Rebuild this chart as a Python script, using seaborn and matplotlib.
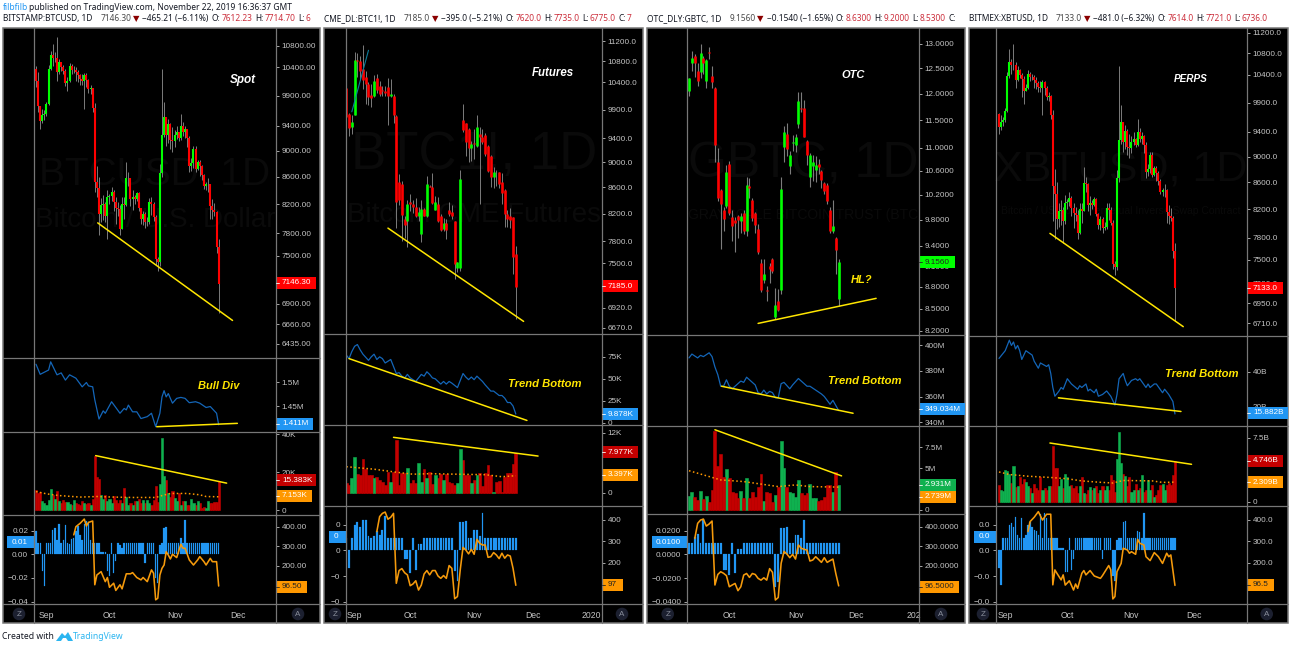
import matplotlib
matplotlib.use("Agg")
import matplotlib.pyplot as plt
import seaborn as sns
from matplotlib.patches import Rectangle, Circle, Polygon

# spot candles, BITSTAMP:BTCUSD
spot_open = [10370,10160,9720,9480,9580,9600,9760,10380,10620,10580,
             10580,10320,10490,10410,10340,10115,10160,10420,10360,10360,
             10310,10260,10190,10160,10270,10170,10010,10030,9700,8530,
             8430,8060,8190,8200,8040,8300,8320,8370,8230,8150,
             8130,7860,8200,8190,8580,8590,8270,8300,8280,8360,
             8150,7990,8070,7950,7950,8230,8200,8020,7460,7420,
             8660,9250,9550,9250,9430,9170,9150,9250,9300,9200,
             9400,9300,9340,9200,8770,8810,9030,8720,8830,8760,
             8630,8460,8490,8500,8170,8120,8090,7612]
spot_close = [10160,9720,9480,9580,9600,9760,10380,10620,10580,10580,
              10320,10490,10410,10340,10115,10160,10420,10360,10360,10310,
              10260,10190,10160,10270,10170,10010,10030,9700,8530,8430,
              8060,8190,8200,8040,8300,8320,8370,8230,8150,8130,
              7860,8200,8190,8580,8590,8270,8300,8280,8360,8150,
              7990,8070,7950,7950,8230,8200,8020,7460,7420,8660,
              9250,9550,9250,9430,9170,9150,9250,9300,9200,9400,
              9300,9340,9200,8770,8810,9030,8720,8830,8760,8630,
              8460,8490,8500,8170,8120,8090,7612,7146]
spot_high = [10420,10310,9720,9680,9660,9800,10450,10700,10830,10680,
             10960,10560,10500,10440,10380,10230,10480,10460,10420,10400,
             10360,10280,10280,10300,10300,10190,10080,10040,9770,8760,
             8600,8290,8340,8230,8400,8350,8450,8400,8300,8240,
             8190,8300,8300,8830,8680,8590,8400,8340,8380,8370,
             8150,8110,8090,8020,8290,8300,8240,8050,7480,8790,
             10370,9800,9550,9510,9450,9370,9330,9400,9300,9600,
             9460,9400,9350,9230,8880,9070,9080,8860,8860,8780,
             8650,8520,8580,8500,8270,8220,8110,7715]
spot_low = [10050,9620,9340,9440,9500,9560,9740,10350,10420,10500,
            10160,10280,10340,10290,10070,9990,10140,10280,10300,10160,
            10140,10090,10080,9680,10050,9950,9930,9620,8380,8300,
            7780,7950,7980,7950,7720,8210,8250,8100,7930,8040,
            7780,7850,8000,8180,8460,8170,8120,8200,8250,8100,
            7920,7910,7870,7900,7920,8050,7970,7380,7300,7370,
            8600,9210,9080,9120,9030,8980,9060,9180,9150,9170,
            9230,9200,9050,8670,8690,8740,8680,8700,8620,8560,
            8420,8400,8380,8000,7990,8040,7530,6790]

# futures candles, CME_DL:BTC1!
fut_open = [10300,9820,9600,9800,10830,10800,10650,10500,10360,10160,
            10150,10480,10340,10260,10240,10320,10150,10150,9790,8690,
            8650,8130,8100,8370,8350,8300,8170,7900,8270,8170,
            8630,8600,8260,8350,8170,7980,8060,8260,8230,8100,
            7430,7430,9720,9660,9550,9230,9320,9270,9480,9420,
            9450,9270,9100,8770,8800,8840,8680,8560,8190,8160,
            8150,7620]
fut_close = [9760,9570,9680,10820,10800,10620,10450,10360,10120,10110,
             10420,10250,10190,10230,10210,10150,10190,9800,8380,8410,
             8180,8030,8350,8350,8300,8170,8230,8270,8170,8650,
             8610,8360,8370,8100,7960,8070,7970,8190,8170,7490,
             7510,8730,9540,9330,9240,9310,9300,9590,9420,9330,
             9140,8860,8760,8850,8790,8660,8510,8200,8120,8110,
             7590,7185]
fut_high = [10300,9830,9810,10990,10970,10900,11130,10620,10400,10360,
            10530,10550,10430,10340,10340,10480,10460,10190,9800,8810,
            8700,8160,8400,8500,8410,8440,8300,8400,8280,8780,
            8640,8830,8470,8450,8190,8140,8120,8380,8330,8100,
            7520,8870,10000,9660,9580,9350,9560,9810,9590,9560,
            9490,9290,9120,8930,8880,8850,8820,8570,8260,8290,
            8150,7735]
fut_low = [9700,9430,9470,9800,10500,10450,10280,10000,9990,9950,
           10130,10200,10140,10150,10140,9620,10130,9660,7990,8330,
           7800,7850,7720,8240,8210,8150,8100,7790,8160,8150,
           8600,8350,8250,8080,7950,7950,7830,8170,8130,7290,
           7380,7400,9500,9100,9000,9020,9050,9250,8350,9300,
           9100,8850,8600,8590,8620,8590,8350,8000,8000,7990,
           7350,6775]

# OTC candles, OTC_DLY:GBTC
otc_open = [12.05,12.6,12.75,12.45,12.43,12.7,12.25,12.82,12.35,12.1,
            10.75,10.28,9.96,10.02,10.72,9.85,9.8,9.86,9.78,9.9,
            9.62,10.34,10.12,9.9,9.65,9.15,8.9,8.75,9.1,9.2,
            8.38,8.6,8.76,11.02,11.24,10.69,11.08,11.05,11.42,11.72,
            11.72,11.12,10.5,10.68,10.62,10.72,10.6,10.4,10.37,9.95,
            9.63,9.52,8.63]
otc_close = [12.3,12.7,12.6,12.25,12.8,12.6,12.67,12.8,12.22,11.05,
             10.15,10.05,9.82,10.58,9.9,9.7,9.75,9.8,9.86,9.63,
             10.36,10.31,9.83,9.72,9.3,8.75,8.98,8.74,9.05,9.03,
             8.55,8.48,10.3,11.28,10.98,10.87,11.11,11.2,11.85,11.7,
             11.2,10.88,10.88,10.75,10.7,10.67,10.45,10.26,10.1,9.62,
             9.7,9.34,9.156]
otc_high = [12.3,12.85,12.78,12.6,13.0,12.75,12.68,12.92,12.55,12.13,
            11.0,10.3,10.0,10.7,10.77,9.96,9.85,9.88,9.9,9.95,
            10.5,10.48,10.15,9.92,9.74,9.2,9.2,8.82,9.15,9.22,
            8.78,8.77,10.5,11.4,11.45,10.95,11.22,11.24,12.03,12.02,
            11.87,11.13,10.9,10.88,10.85,10.8,10.61,10.42,10.4,10.0,
            10.12,9.53,9.2]
otc_low = [11.95,12.45,12.33,12.15,12.3,12.38,12.1,12.68,12.1,10.75,
           10.1,9.35,9.62,9.98,9.88,9.48,9.3,9.52,9.6,9.58,
           9.55,10.15,9.78,9.6,9.28,8.73,8.85,8.6,8.85,9.0,
           8.36,8.46,8.7,10.75,10.85,10.55,10.95,10.92,11.35,11.65,
           11.2,10.7,10.33,10.43,10.42,10.55,10.32,10.22,10.05,9.6,
           9.6,8.98,8.53]

# perps candles, BITMEX:XBTUSD
perp_open = [9710,9480,9570,9600,9750,10380,10630,10570,10580,10310,
             10480,10400,10330,10100,10150,10410,10350,10350,10300,10250,
             10180,10150,10260,10160,10000,10020,9680,8540,8420,8060,
             8180,8190,8030,8300,8310,8360,8220,8150,8120,7860,
             8200,8180,8590,8580,8260,8290,8270,8350,8140,7980,
             8060,7940,7950,8220,8190,8010,7450,7410,8670,9260,
             9560,9240,9420,9160,9140,9240,9290,9190,9400,9290,
             9330,9190,8760,8800,9030,8710,8820,8750,8620,8450,
             8480,8490,8160,8110,8080,7614]
perp_close = [9480,9570,9600,9750,10380,10630,10570,10580,10310,10480,
              10400,10330,10100,10150,10410,10350,10350,10300,10250,10180,
              10150,10260,10160,10000,10020,9680,8540,8420,8060,8180,
              8190,8030,8300,8310,8360,8220,8150,8120,7860,8200,
              8180,8590,8580,8260,8290,8270,8350,8140,7980,8060,
              7940,7950,8220,8190,8010,7450,7410,8670,9260,9560,
              9240,9420,9160,9140,9240,9290,9190,9400,9290,9330,
              9190,8760,8800,9030,8710,8820,8750,8620,8450,8480,
              8490,8160,8110,8080,7614,7133]
perp_high = [9720,9680,9660,9800,10450,10890,10700,10970,10640,10560,
             10510,10440,10380,10230,10480,10450,10420,10400,10360,10280,
             10280,10300,10290,10190,10080,10040,9770,8800,8600,8300,
             8340,8230,8410,8350,8450,8400,8300,8240,8190,8300,
             8300,8840,8680,8590,8400,8340,8380,8370,8150,8110,
             8090,8020,8290,8300,8240,8050,7480,8790,10560,9850,
             9560,9510,9450,9370,9330,9400,9300,9620,9460,9400,
             9350,9230,8880,9070,9080,8860,8860,8780,8650,8520,
             8580,8500,8270,8220,8110,7721]
perp_low = [9360,9440,9500,9560,9740,10340,10420,10480,10150,10280,
            10340,10000,9870,10100,10140,10280,10300,10160,10140,10090,
            10080,9680,10040,9950,9930,9620,8030,7780,7920,7950,
            7980,7730,7990,8210,8250,8100,7930,8040,7780,7850,
            8000,8180,8460,8170,8120,8200,8250,8100,7920,7910,
            7870,7900,7920,8050,7970,7380,7300,7370,8600,9210,
            9080,9120,9030,8980,9060,9180,9150,9170,9230,9200,
            9050,8670,8690,8740,8680,8700,8620,8560,8420,8400,
            8380,8000,7990,8040,7530,6736]

# second pane, blue line (bar index, value)
spot_flow_x = [0,2,6,7,10,12,14,16,19,22,24,25,27,28,30,32,33,36,38,40,42,43,44,46,48,50,53,55,57,59,60,61,62,63,65,67,69,71,73,76,78,81,83,86,87]
spot_flow = [1.537,1.516,1.525,1.542,1.515,1.519,1.504,1.515,1.508,1.490,1.499,1.492,1.490,1.463,1.423,1.440,1.435,1.459,1.447,1.435,1.445,1.442,1.452,1.438,1.438,1.424,1.428,1.435,1.407,1.435,1.469,1.482,1.469,1.476,1.456,1.466,1.468,1.466,1.457,1.459,1.456,1.447,1.449,1.435,1.411]
fut_flow_x = [0,1,2,3,4,5,6,8,9,10,11,12,13,14,15,16,17,18,19,20,21,22,23,25,26,27,28,29,30,31,32,34,35,36,37,38,40,42,43,44,45,46,47,49,50,52,53,55,56,57,58,59,60,61]
fut_flow = [77,73,81,87,89,83,78,71,75,78,72,75,73,68,70,72,64,56,57,53,51,55,51,47,51,55,53,58,55,51,50,44,47,44,47,45,40,56,52,49,52,49,53,47,43,36,36,31,31,28,23,23,19,9.878]
otc_flow_x = [0,1,3,4,5,7,8,9,10,11,12,13,14,15,16,18,19,20,22,23,24,25,26,27,28,29,30,31,32,33,35,36,38,39,41,42,44,46,47,49,50,52]
otc_flow = [390,393,390,392,391,394,391,383,377,368,368,373,368,366,368,372,371,375,371,369,363,362,365,362,364,363,359,359,370,371,366,369,374,372,368,368,365,362,360,354,357,349.034]
perp_flow_x = [0,3,5,6,7,8,9,10,11,13,16,17,19,20,23,24,25,26,27,29,30,31,33,35,38,39,40,42,43,44,46,47,48,50,52,54,56,57,58,60,61,62,64,66,67,68,71,72,73,75,76,79,80,82,84,85]
perp_flow = [47.6,52,58,55,57,53,55,52,47,52,49.5,46,42,45,43,44,39,31,26,29,31,30,36,33,30,32,31,33,29,30,28,30,26,27,29,26,21,27,36,39,35,32,35,36,35,36,31,33,31,33,33,28,30,27,23,15.882]

# volume bars
spot_vol = [10.5,9,9.5,5,4,3,5.5,11,8,6,10,5,4,5.5,4.5,4.5,3.5,3,5.5,4,
            3.5,3,5,4,3.5,4,3,6,28.7,17.5,16.5,8,6,8,5,6,4,7.5,5.5,4,
            5.5,4,11.5,7,3,4,3,5,5,6,4,5.5,4,5.5,4,3,5.5,13,4.5,14,
            38,18,16,9,7,10,6.5,5,9,3,5,5,3,3,6,4,3,5,4,1.5,
            2,1.5,5,4,4,4.5,4.5,15.383]
fut_vol = [2,1.5,2.9,7.2,3.7,3.5,6.7,4.7,3.5,3.5,2.9,3.2,2.5,2.2,1.5,4.2,2.2,4.2,10.5,1.5,
           3.9,3.9,4.9,1.9,2.5,1.9,5.9,2.2,4.7,2.9,4.2,1.7,3.5,2.9,3.7,2.5,3.7,2.2,1.9,1.5,
           2,8.7,6.5,3.5,3.5,2,2.5,3.5,3.9,1.3,3.9,5.5,3.5,0.1,2.2,2.4,0.1,3.2,3.9,3.9,
           5.7,7.977]
otc_vol = [1.7,2.1,1.5,1.2,2.3,1.3,1.7,1,2.4,9.4,5.3,6.7,4,4.9,3.8,2.1,2,1.4,2.3,1.4,
           3.8,1.4,2.1,1.5,2.8,4.3,1.1,2.1,2,1,1.8,2.7,8.3,5,2.8,2.1,2,1.5,3.6,2,
           1.8,2,3.1,1.4,1.4,1.1,1.2,1.6,3,3,2.1,4.5,2.931]
perp_vol = [2,1.4,1.3,3.7,3.6,3.3,2.2,4.2,1.7,1.8,2.9,2.1,2.7,2.3,1.8,1.6,1,2.1,1.6,1.4,
            2.9,1.4,1.6,1.4,1.8,1.8,6.6,4,4,1.8,2.7,1.6,3.3,2.9,1.8,2,1.6,1.8,1,1.8,
            2.9,1,0.9,1.4,1.7,1.4,1.6,1.8,1,1.4,1.8,1.4,1.8,1.4,3.1,2.5,1.1,5,8.2,4.5,
            3.3,3,1.8,2.9,1.2,1.4,2.1,1.4,1.6,3.2,1.1,1.4,2.5,1.4,2,0.6,0.8,1.4,2,2.1,
            1.4,2,2.2,2,3.1,4.746]

# volume moving average
spot_ma_x = [0,5,11,21,29,37,46,57,60,64,72,78,81,87]
spot_ma = [9.9,8.7,7.8,7,7.3,7,6.8,6.8,7.8,8.9,8.9,8.2,7.3,7.153]
fut_ma_x = [0,10,18,24,30,40,50,56,61]
fut_ma = [5.2,4.7,4.1,3.7,3.8,3.7,3.6,3.2,3.397]
otc_ma_x = [0,5,11,19,25,31,37,42,52]
otc_ma = [4.7,4.2,3.6,3.4,3.1,2.8,3,2.8,2.739]
perp_ma_x = [0,5,14,25,33,40,48,55,60,74,79,85]
perp_ma = [3.5,3.2,3,2.85,2.7,2.45,2.3,2.2,2.5,2.45,2.27,2.309]

# bottom pane histogram
spot_hist = [.02,.01,.01,-.014,-.027,.01,.01,.01,.021,.022,
             .012,.026,.01,.012,.025,.01,.009,.013,.014,.02,
             .024,.016,.012,.026,.028,.027,.012,.01,.01,.01,
             .01,.002,.002,.002,-.014,-.018,.01,-.016,-.006,.01,
             .008,.005,.01,.01,.01,.01,.01,.01,.01,.01,
             .01,.01,-.007,.01,.01,.01,.01,-.02,-.024,.008,
             .01,.022,.023,.01,.01,.01,.01,.01,.01,.014,
             .01,.029,.01,.01,.01,.01,.01,.01,.01,.01,
             .01,.01,.01,.01,.01,.01,.01,.01]
fut_hist = [.01,-.0135,.01,.02,.022,.018,.024,.024,.011,.01,
            .011,.015,.012,.016,.027,.01,.01,.01,.01,.01,
            .01,-.007,-.007,-.0175,.01,-.0155,.005,.005,.01,.01,
            .01,.01,.01,.01,.01,.01,.01,.01,.01,-.016,
            -.024,.022,.022,.023,.01,.01,.016,.016,.011,.029,
            .01,.01,.01,.01,.01,.01,.01,.01,.01,.01,
            .01,.01]
otc_hist = [.01,.01,.0145,.017,.01,.03,.01,.01,.01,.01,
            .01,.01,-.0133,-.0133,-.017,.01,-.016,.005,.005,.01,
            .01,.01,.01,.01,.01,.01,.01,.01,.01,.01,
            -.027,-.023,.022,.022,.023,.01,.01,.016,.016,.014,
            .029,.01,.01,.01,.01,.01,.01,.01,.01,.01,
            .01,.01,.01]
perp_hist = [-.0135,-.027,.01,.01,.01,.02,.021,.018,.026,.012,
             .01,.025,.01,.012,.02,.022,.018,.016,.015,.012,
             .028,.01,.029,.025,.01,.01,.01,.01,.01,.002,
             .002,.002,-.017,-.017,.01,-.015,-.007,.01,.01,.01,
             .01,.01,.01,.01,.01,.01,.01,.01,.01,.01,
             -.007,.01,.01,.01,.01,-.02,-.024,.008,.01,.01,
             .022,.023,.01,.01,.01,.01,.01,.015,.014,.01,
             .029,.01,.01,.01,.01,.01,.01,.01,.01,.01,
             .01,.01,.01,.01,.01,.01]

# bottom pane orange line
spot_osc_x = [18,19,21,23,24,25,27,28,29,31,33,34,35,37,38,40,41,43,45,46,48,50,51,53,55,56,57,58,59,60,61,62,63,64,65,67,69,70,71,73,75,77,78,80,81,83,84,86,87]
spot_osc = [358,400,417,439,403,422,429,103,153,170,119,140,90,111,74,103,82,159,159,165,140,128,140,119,179,162,26,34,153,187,204,272,255,235,259,242,310,290,290,230,204,230,247,221,204,238,221,221,96.5]
fut_osc_x = list(range(11, 62))
fut_osc = [345,414,429,435,402,411,429,106,165,174,155,145,95,103,118,75,98,149,165,145,165,165,140,129,142,129,188,175,35,45,168,272,260,242,263,240,309,291,283,283,226,229,248,237,220,245,222,237,232,175,97]
otc_osc_x = list(range(2, 53))
otc_osc = [340,417,434,439,403,414,429,101,155,169,161,149,92,101,109,72,92,152,160,140,160,155,135,126,138,126,185,166,24,37,212,273,260,241,258,234,306,289,284,280,224,229,246,232,217,241,217,226,234,160,96.5]
perp_osc_x = [14,15,17,19,21,23,25,26,27,28,30,31,32,34,36,37,38,40,41,42,44,46,49,50,53,54,55,56,57,59,60,62,63,64,66,67,68,70,71,73,75,77,79,81,82,83,85]
perp_osc = [345,391,411,437,398,425,425,99,168,152,122,145,98,118,75,103,83,152,165,145,165,140,129,142,188,168,34,45,160,198,268,260,245,252,240,309,291,283,229,211,248,229,198,245,229,237,96.5]

# hand drawn trend lines ((bar, value), (bar, value))
spot_trends = [[29.4, 93.6], [7940, 6703], [57.5, 95.9], [1.407, 1.414], [28.4, 90.8], [28.7, 14.3]]
fut_trends = [[15, 63.8], [7990, 6750], [1, 65], [73, 2.6], [17, 69], [11.07, 7.33]]
otc_trends = [[24, 65], [8.3, 8.64], [11.3, 57], [368, 347], [9, 53], [9.6, 4.08]]
perp_trends = [[24.6, 89], [7860, 6667], [28.7, 87.9], [25.1, 17.3], [24.6, 93], [6.9, 4.4]]
fut_teal_x = [2, 8]
fut_teal = [9860, 11020]

W, H = 1290, 647
UP, DOWN = "#00ff00", "#ff0000"
VOL_UP, VOL_DOWN = "#0fb14f", "#c40000"
BLUE, ORANGE, YELLOW = "#2196f3", "#ff9800", "#ffe600"
GREY_LINE, TICK = "#777777", "#c4c4c4"

sns.set_theme(style="dark")
plt.rcParams["font.family"] = ["Liberation Sans", "DejaVu Sans"]
plt.rcParams["axes.facecolor"] = "none"
plt.rcParams["axes.unicode_minus"] = True

fig = plt.figure(figsize=(W / 100, H / 100), dpi=100, facecolor="white")


def pixel_axes(x0, y0, x1, y1, zorder):
    return fig.add_axes([x0 / W, 1 - y1 / H, (x1 - x0) / W, (y1 - y0) / H], zorder=zorder)


bg = pixel_axes(0, 0, W, H, 0)
top = pixel_axes(0, 0, W, H, 5)
for a in (bg, top):
    a.set_xlim(0, W)
    a.set_ylim(H, 0)
    a.axis("off")

panels = [
    dict(box=(3, 320), xl=34, xr=276, rows=(28, 358, 432, 515, 604, 623),
         o=spot_open, c=spot_close, h=spot_high, l=spot_low, xlim=(-0.95, 114.3),
         flow=(spot_flow_x, spot_flow), vol=spot_vol, ma=(spot_ma_x, spot_ma),
         hist=spot_hist, osc=(spot_osc_x, spot_osc), trends=spot_trends,
         ylim=(6280, 11136), flow_lim=(1.396, 1.55), vol_lim=(-2.37, 41.05),
         hist_lim=(-.042, .0333), osc_lim=(4.6, 459.7),
         pt=[10800,10400,9900,9400,9000,8600,8200,7800,7500,7160,6900,6660,6435], pfmt="{:.2f}",
         ft=[1.5, 1.45], fl=["1.5M", "1.45M"],
         vt=[40, 20, 0], vl=["40K", "20K", "0"],
         ht=["0.02", "0.01", "0.00", "\u22120.02", "\u22120.04"], ofmt="{:.2f}",
         xt=[5, 35, 66, 96], xtl=["Sep", "Oct", "Nov", "Dec"],
         tags=[(283, 316, "7146.30", "#ff0000", "white"), (423.5, 313, "1.411M", BLUE, "white"),
               (480, 316, "15.383K", "#c40000", "white"), (495.7, 312, "7.153K", ORANGE, "white"),
               (586.7, 307, "96.50", ORANGE, "#222222")],
         ltag=(7, 542, "0.01"), z=19, a=298, wm=[("BTCUSD, 1D", 28, 175, 155), ("Bitcoin / U.S. Dollar", 20, 220, 155)],
         notes=[("Spot", 243, 80, "white", 8.5), ("Bull Div", 219, 386, YELLOW, 8)], body=1.5, wick=.7),
    dict(box=(324, 642.5), xl=345.7, xr=602, rows=(28, 334, 425, 506, 604, 623),
         o=fut_open, c=fut_close, h=fut_high, l=fut_low, xlim=(-0.2, 92),
         flow=(fut_flow_x, fut_flow), vol=fut_vol, ma=(fut_ma_x, fut_ma),
         hist=fut_hist, osc=(fut_osc_x, fut_osc), trends=fut_trends,
         ylim=(6598, 11473), flow_lim=(-2.6, 101), vol_lim=(-2.66, 13.54),
         hist_lim=(-.0418, .0346), osc_lim=(10.6, 463),
         pt=[11200,10800,10400,9900,9400,9000,8600,8200,7800,7500,7185,6920,6670], pfmt="{:.1f}",
         ft=[75, 50, 25, 0], fl=["75K", "50K", "25K", "0"],
         vt=[12, 0], vl=["12K", "0"],
         ht=["0", "0", "0", "\u22120", "\u22120"], ofmt="{:.0f}",
         xt=[3, 23, 46, 67, 88], xtl=["Sep", "Oct", "Nov", "Dec", "2020"],
         tags=[(286, 638, "7185.0", "#ff0000", "white"), (414, 638, "9.878K", BLUE, "white"),
               (452, 638, "7.977K", "#c40000", "white"), (475, 638, "3.397K", ORANGE, "white"),
               (585, 623, "97", ORANGE, "#222222")],
         ltag=(329, 537, "0"), z=335, a=622, wm=[("BTC1!, 1D", 38, 155, 474), ("Bitcoin CME Futures", 20, 215, 474)],
         notes=[("Futures", 553, 73, "white", 8.3), ("Trend Bottom", 545, 384, YELLOW, 8.1)], body=1.9, wick=.7),
    dict(box=(647, 965), xl=687, xr=919, rows=(28, 335, 426, 514, 604, 623),
         o=otc_open, c=otc_close, h=otc_high, l=otc_low, xlim=(-0.7, 79.9),
         flow=(otc_flow_x, otc_flow), vol=otc_vol, ma=(otc_ma_x, otc_ma),
         hist=otc_hist, osc=(otc_osc_x, otc_osc), trends=otc_trends,
         ylim=(8.147, 13.33), flow_lim=(337.1, 407.8), vol_lim=(-.48, 10.05),
         hist_lim=(-.0417, .0341), osc_lim=(3.6, 465),
         pt=[13,12.5,12,11.5,11,10.6,10.2,9.8,9.4,9.1,8.8,8.5,8.2], pfmt="{:.4f}",
         ft=[400, 380, 360, 340], fl=["400M", "380M", "360M", "340M"],
         vt=[7.5, 5, 2.5, 0], vl=["7.5M", "5M", "2.5M", "0"],
         ht=["0.0200", "0.0100", "0.0000", "\u22120.0200", "\u22120.0400"], ofmt="{:.4f}",
         xt=[14, 37, 58, 78], xtl=["Oct", "Nov", "Dec", "202"],
         tags=[(262, 955, "9.1560", "#00ff00", "#222222"), (409.3, 965, "349.034M", BLUE, "white"),
               (485, 956, "2.931M", "#0fb14f", "white"), (497, 956, "2.739M", ORANGE, "white"),
               (587, 959, "96.5000", ORANGE, "#222222")],
         ltag=(652, 542, "0.0100"), z=667.7, a=941, wm=[("GBTC, 1D", 36, 165, 803), ("GRAYSCALE BITCOIN TRUST (BTC", 10, 215, 803)],
         notes=[("OTC", 853, 75, "white", 8), ("Trend Bottom", 865, 381, YELLOW, 8.1), ("HL?", 862, 280, YELLOW, 8)], body=1.9, wick=.8),
    dict(box=(969, 1288), xl=996, xr=1247, rows=(28, 336, 426, 506, 604, 623),
         o=perp_open, c=perp_close, h=perp_high, l=perp_low, xlim=(-1.45, 119.8),
         flow=(perp_flow_x, perp_flow), vol=perp_vol, ma=(perp_ma_x, perp_ma),
         hist=perp_hist, osc=(perp_osc_x, perp_osc), trends=perp_trends,
         ylim=(6558, 11293), flow_lim=(9, 60.4), vol_lim=(-.5, 8.9),
         hist_lim=(-.0418, .0346), osc_lim=(10.6, 463),
         pt=[11200,10800,10400,9900,9400,9000,8600,8200,7800,7500,7200,6950,6710], pfmt="{:.1f}",
         ft=[40, 20], fl=["40B", "20B"],
         vt=[7.5, 0], vl=["7.5B", "0"],
         ht=["0.0", "0.0", "0.0", "\u22120.0", "\u22120.0"], ofmt="{:.1f}",
         xt=[3, 33, 64, 94], xtl=["Sep", "Oct", "Nov", "Dec"],
         tags=[(288, 1283, "7133.0", "#ff0000", "white"), (413, 1288, "15.882B", BLUE, "white"),
               (461, 1283, "4.746B", "#c40000", "white"), (482, 1283, "2.309B", ORANGE, "white"),
               (585, 1274, "96.5", ORANGE, "#222222")],
         ltag=(974, 537, "0.0"), z=983, a=1266.7, wm=[("XBTUSD, 1D", 31, 170, 1121), ("Bitcoin / US Dollar Perpetual Inverse Swap Contract", 7.5, 211, 1121)],
         notes=[("PERPS", 1191, 79, "white", 7.2), ("Trend Bottom", 1202, 374, YELLOW, 8.1)], body=1.5, wick=.7),
]


def tidy(ax):
    for s in ax.spines.values():
        s.set_visible(False)
    ax.grid(False)
    ax.set_xlabel("")
    ax.set_ylabel("")
    ax.tick_params(axis="both", colors=TICK, labelsize=5.9, length=2.2, width=.6, pad=2)


def fatten(ax, lw):
    # bars this narrow go faint without an edge in their own colour
    for patch in ax.patches:
        patch.set_edgecolor(patch.get_facecolor())
        patch.set_linewidth(lw)


def draw_panel(p):
    x0, x1 = p["box"]
    xl, xr = p["xl"], p["xr"]
    r = p["rows"]
    bg.add_patch(Rectangle((x0, r[0]), x1 - x0, r[5] - r[0], color="black", lw=0))
    for text, size, y, xc in p["wm"]:
        bg.text(xc, y, text, color="#0a0a0a", fontsize=size, ha="center", va="center")

    n = len(p["c"])
    bars = list(range(n))
    labels = ["up" if c >= o else "down" for o, c in zip(p["o"], p["c"])]

    # candles
    ax = pixel_axes(xl, r[0], xr, r[1], 1)
    ax.set_yscale("log")
    ax.vlines(bars, p["l"], p["h"], color="#7c7c7c", lw=p["wick"], zorder=2)
    ax.vlines(bars, p["o"], p["c"], lw=p["body"], zorder=3, capstyle="butt",
              color=[UP if s == "up" else DOWN for s in labels])
    t = p["trends"]
    sns.lineplot(x=t[0], y=t[1], color=YELLOW, lw=1.1, ax=ax, errorbar=None, zorder=4)
    if p["o"] is fut_open:
        sns.lineplot(x=fut_teal_x, y=fut_teal, color="#0b7d9a", lw=.8, ax=ax, errorbar=None, zorder=4)
    ax.yaxis.tick_right()
    ax.set_yticks(p["pt"])
    ax.set_yticklabels([p["pfmt"].format(v) for v in p["pt"]])
    ax.minorticks_off()
    ax.set_ylim(*p["ylim"])
    ax.set_xlim(*p["xlim"])
    ax.set_xticks([])
    tidy(ax)

    # blue line
    ax = pixel_axes(xl, r[1], xr, r[2], 1)
    sns.lineplot(x=p["flow"][0], y=p["flow"][1], color="#1466b8", lw=.9, ax=ax, errorbar=None)
    sns.lineplot(x=t[2], y=t[3], color=YELLOW, lw=1.1, ax=ax, errorbar=None)
    ax.yaxis.tick_right()
    ax.set_yticks(p["ft"])
    ax.set_yticklabels(p["fl"])
    ax.set_ylim(*p["flow_lim"])
    ax.set_xlim(*p["xlim"])
    ax.set_xticks([])
    tidy(ax)

    # volume
    ax = pixel_axes(xl, r[2], xr, r[3], 1)
    sns.barplot(x=bars, y=p["vol"], hue=labels, palette={"up": VOL_UP, "down": VOL_DOWN}, dodge=False,
                native_scale=True, legend=False, saturation=1, width=1, linewidth=0, ax=ax)
    fatten(ax, .4)
    sns.lineplot(x=p["ma"][0], y=p["ma"][1], color=ORANGE, lw=1.1, ls=":", ax=ax, errorbar=None)
    sns.lineplot(x=t[4], y=t[5], color=YELLOW, lw=1.1, ax=ax, errorbar=None)
    ax.yaxis.tick_right()
    ax.set_yticks(p["vt"])
    ax.set_yticklabels(p["vl"])
    ax.set_ylim(*p["vol_lim"])
    ax.set_xlim(*p["xlim"])
    ax.set_xticks([])
    tidy(ax)

    # histogram and orange line, left and right scales
    ax = pixel_axes(xl, r[3], xr, r[4], 1)
    sns.barplot(x=bars, y=p["hist"], color=BLUE, native_scale=True, saturation=1, width=.66, linewidth=0, ax=ax)
    fatten(ax, .15)
    ax.yaxis.tick_left()
    ax.set_yticks([.02, .01, 0, -.02, -.04])
    ax.set_yticklabels(p["ht"])
    ax.set_ylim(*p["hist_lim"])
    ax.set_xticks(p["xt"])
    ax.set_xticklabels(p["xtl"])
    ax.set_xlim(*p["xlim"])
    tidy(ax)
    ax.tick_params(axis="x", pad=2.6, labelsize=6.2)
    tw = ax.twinx()
    sns.lineplot(x=p["osc"][0], y=p["osc"][1], color="#f59a0c", lw=1.15, ax=tw, errorbar=None)
    tw.yaxis.tick_right()
    tw.set_yticks([400, 300, 200])
    tw.set_yticklabels([p["ofmt"].format(v) for v in (400, 300, 200)])
    tw.set_ylim(*p["osc_lim"])
    tidy(tw)

    # panel chrome
    top.add_patch(Rectangle((x0, r[0]), x1 - x0, r[5] - r[0], fill=False, ec=GREY_LINE, lw=1.1))
    for y in r[1:5]:
        top.plot([x0, x1], [y, y], color=GREY_LINE, lw=.9)
    for x in (xl, xr):
        top.plot([x, x], [r[0], r[5]], color=GREY_LINE, lw=.9)
    for y, x_end, text, col, tc in p["tags"]:
        top.add_patch(Rectangle((xr, y - 6), x_end - xr, 12, color=col, lw=0))
        top.plot([xr, xr + 3], [y, y], color=tc, lw=.6)
        top.text(xr + 6, y, text, color=tc, fontsize=5.9, va="center", ha="left")
    lx, ly, ltext = p["ltag"]
    top.add_patch(Rectangle((lx, ly - 6), xl - lx, 12, color=BLUE, lw=0))
    top.text((lx + xl) / 2 - 1, ly, ltext, color="white", fontsize=5.9, va="center", ha="center")
    for cx, letter in ((p["z"], "Z"), (p["a"], "A")):
        top.add_patch(Circle((cx, 614), 6.3, color="#1c2030", lw=0))
        top.text(cx, 614, letter, color="#8a8f9c", fontsize=5.8, ha="center", va="center")
    for text, x, y, col, size in p["notes"]:
        top.text(x, y, text, color=col, fontsize=size, fontweight="bold", fontstyle="italic", ha="center", va="center")


for p in panels:
    draw_panel(p)

# text rows above and below the panels
fig.canvas.draw()
renderer = fig.canvas.get_renderer()
DARK, RED_TEXT = "#131722", "#cc2f3c"


def text_run(x, y, runs, size=6.2):
    # each run: text, colour, weight, optional font, optional gap after it
    for run in runs:
        text, col, weight = run[:3]
        family = run[3] if len(run) > 3 else "Noto Sans"
        gap = run[4] if len(run) > 4 else 1.6
        t = top.text(x, y, text, color=col, fontweight=weight, fontsize=size, va="center", ha="left", family=family)
        x += t.get_window_extent(renderer).width + gap
    return x


def header(x, name, last, change, o, h, l, c=None):
    runs = [(name, DARK, "bold", "Noto Sans", 8), (last, "#4a4a4a", "normal"), ("\u25bc", "#8b0000", "normal", "DejaVu Sans", 3),
            (change, DARK, "normal", "Noto Sans", 3), ("O:", DARK, "bold", "Noto Sans", .8), (o, RED_TEXT, "normal", "Noto Sans", 3),
            ("H:", DARK, "bold", "Noto Sans", .8), (h, RED_TEXT, "normal", "Noto Sans", 3),
            ("L:", DARK, "bold", "Noto Sans", .8), (l, RED_TEXT, "normal", "Noto Sans", 3)]
    if c is not None:
        runs += [("C:", DARK, "bold", "Noto Sans", .8)] + ([(c, RED_TEXT, "normal")] if c else [])
    text_run(x, 18.5, runs, size=6)


text_run(2.5, 7, [("filbfilb", "#2196f3", "normal"), ("published on TradingView.com, November 22, 2019 16:36:37 GMT", DARK, "normal")], size=6.1)
header(3, "BITSTAMP:BTCUSD, 1D", "7146.30", "\u2212465.21 (\u22126.11%)", "7612.23", "7714.70", "6")
header(324.5, "CME_DL:BTC1!, 1D", "7185.0", "\u2212395.0 (\u22125.21%)", "7620.0", "7735.0", "6775.0", "7")
header(647, "OTC_DLY:GBTC, 1D", "9.1560", "\u22120.1540 (\u22121.65%)", "8.6300", "9.2000", "8.5300", "")
header(969, "BITMEX:XBTUSD, 1D", "7133.0", "\u2212481.0 (\u22126.32%)", "7614.0", "7721.0", "6736.0")

top.text(2, 636.5, "Created with", color=DARK, fontsize=6.2, va="center", ha="left", family="Noto Sans")
top.add_patch(Polygon([(56, 641), (62, 633), (65, 636), (68, 632), (73, 641), (68, 641), (66, 638), (63, 638), (61, 641)], color="#2bb5f0", lw=0))
top.text(72.5, 636.5, "TradingView", color="#2bb5f0", fontsize=6.2, va="center", ha="left", family="Noto Sans")

fig.savefig("out.png", dpi=100, facecolor="white")
